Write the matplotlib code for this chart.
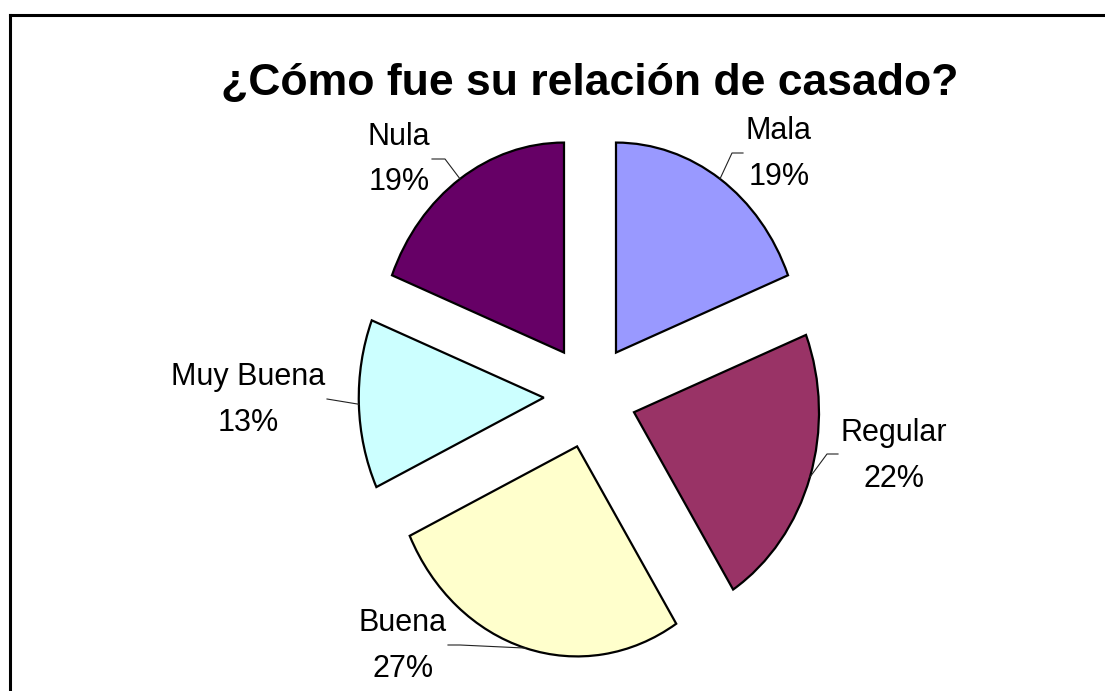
"""
Exploded pie: ¿Cómo fue su relación de casado?
Excel-style chart, slices clockwise from 12 o'clock, outside labels with leaders.
"""

import numpy as np
import matplotlib
matplotlib.use('Agg')
import matplotlib.pyplot as plt
from matplotlib.lines import Line2D

# ── Data ──────────────────────────────────────────────────────────────────────
CATEGORIES = ['Mala', 'Regular', 'Buena', 'Muy Buena', 'Nula']
PERCENTS   = [19, 22, 27, 13, 19]
COLORS     = ['#9999FF', '#993366', '#FFFFCC', '#CCFFFF', '#660066']
TITLE      = '¿Cómo fue su relación de casado?'

# ── Layout (pixels of the 1105x691 canvas) ────────────────────────────────────
W, H = 1105, 691
CX, CY = 590, 396        # pie centre
RX, RY = 185, 210        # one data unit in px (x, y): slightly tall ellipse

# label baselines: (x centre, name baseline, pct baseline)
LABEL_POS = {
    'Mala':      (779, 139, 185),
    'Regular':   (894, 441, 487),
    'Buena':     (403, 631, 677),
    'Muy Buena': (248, 385, 431),
    'Nula':      (399, 145, 190),
}
# leader elbow + end points (from wedge arc midpoint)
LEADERS = {
    'Mala':      [(732, 153), (743, 153)],
    'Regular':   [(827, 454), (838, 454)],
    'Buena':     [(460, 645), (448, 645)],
    'Muy Buena': [(327, 399)],
    'Nula':      [(445, 159), (432, 159)],
}


def px(x, y):
    return (x - CX) / RX, (CY - y) / RY


plt.rcParams['font.family'] = ['Liberation Sans', 'DejaVu Sans']

fig = plt.figure(figsize=(W / 100, H / 100), dpi=100)
ax = fig.add_axes([0, 0, 1, 1])

wedges, _ = ax.pie(
    PERCENTS,
    colors=COLORS,
    explode=[0.25] * len(PERCENTS),
    startangle=90,
    counterclock=False,
    radius=1.0,
    wedgeprops=dict(edgecolor='black', linewidth=1.6),
)
ax.set_aspect('auto')
ax.set_xlim(-CX / RX, (W - CX) / RX)
ax.set_ylim((CY - H) / RY, CY / RY)
ax.axis('off')

# ── Labels + leader lines ─────────────────────────────────────────────────────
for w, cat, pct in zip(wedges, CATEGORIES, PERCENTS):
    xc, yb1, yb2 = LABEL_POS[cat]
    ax.text(*px(xc, yb1), cat, ha='center', va='baseline', fontsize=22)
    ax.text(*px(xc, yb2), f'{pct}%', ha='center', va='baseline', fontsize=22)

    mid = np.deg2rad((w.theta1 + w.theta2) / 2)
    sx = w.center[0] + w.r * np.cos(mid)
    sy = w.center[1] + w.r * np.sin(mid)
    pts = [(sx, sy)] + [px(*p) for p in LEADERS[cat]]
    xs, ys = zip(*pts)
    ax.plot(xs, ys, color='#222222', lw=0.8, zorder=3)

# ── Title ─────────────────────────────────────────────────────────────────────
fig.text(CX / W, 1 - 95 / H, TITLE, ha='center', va='baseline',
         fontsize=32, fontweight='bold')

# ── Chart frame (right and bottom edges fall outside the canvas) ──────────────
fx, fy = 9.5 / W, 1 - 14.5 / H
fig.add_artist(Line2D([fx, fx], [-0.1, fy], transform=fig.transFigure,
                      color='black', lw=2.2, solid_capstyle='projecting'))
fig.add_artist(Line2D([fx, 1.1], [fy, fy], transform=fig.transFigure,
                      color='black', lw=2.2, solid_capstyle='projecting'))

fig.savefig('out.png', dpi=100)
